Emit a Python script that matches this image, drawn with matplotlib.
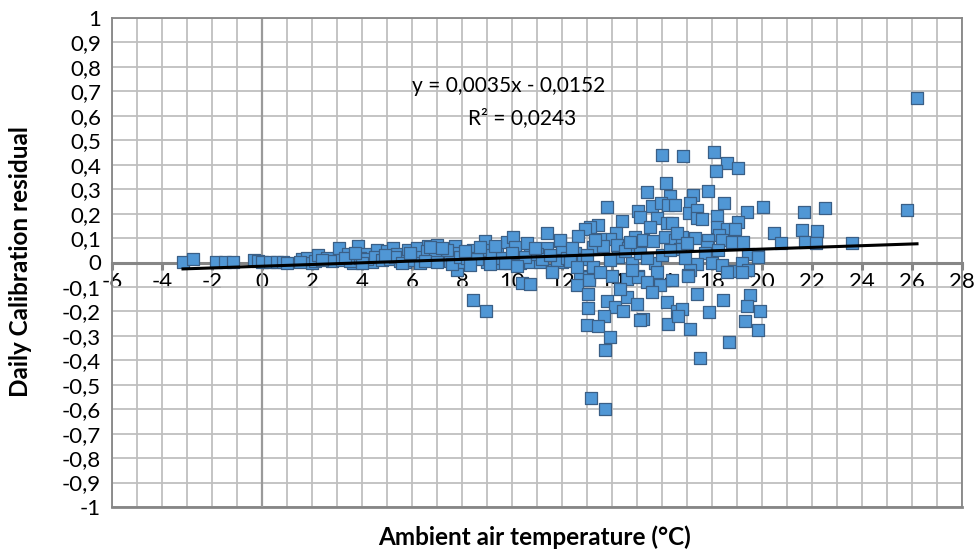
import numpy as np
import matplotlib
matplotlib.use("Agg")
import matplotlib.pyplot as plt
from matplotlib.ticker import MultipleLocator, FuncFormatter

plt.rcParams['font.family'] = ['Lato', 'DejaVu Sans']

# ---------------- data ----------------
temp_a = [-3.16, -2.76, -1.84, -1.48, -1.16, -0.32, -0.16, 0.0, 0.32, 0.6, 0.84, 1.0, 1.6, 1.8, 2.0,
          2.12, 2.24, 2.6, 2.8, 1.5, 2.4]
resid_a = [0.004, 0.016, 0.004, 0.004, 0.004, 0.012, 0.008, 0.004, 0.004, 0.004, 0.004, 0.0, 0.016, 0.02, 0.0,
           0.008, 0.029, 0.02, 0.008, 0.004, 0.012]

temp_b = [3.08, 3.44, 3.84, 4.12, 3.64, 4.4, 3.2, 3.5, 3.9, 4.2, 4.6, 3.3, 4.0, 4.5, 3.7,
          5.0, 5.24, 5.4, 5.84, 6.2, 6.12, 5.72, 6.64, 7.0, 7.12, 7.72, 7.8, 7.8, 8.04, 4.8,
          5.1, 5.5, 6.0, 6.4, 6.8, 7.3, 7.5, 6.6, 7.4, 6.9, 5.3, 5.6, 6.3, 7.6, 6.7,
          7.2, 4.9, 5.9, 6.5, 7.9, 7.0]
resid_b = [0.06, 0.033, 0.069, 0.033, -0.004, 0.004, 0.012, 0.008, 0.02, 0.016, 0.053, 0.02, 0.0, 0.024, 0.04,
           0.045, 0.06, 0.033, 0.053, 0.06, 0.02, 0.004, 0.069, 0.073, 0.037, 0.069, 0.04, -0.029, 0.004, 0.012,
           0.016, 0.008, 0.012, 0.024, 0.02, 0.016, 0.008, 0.045, 0.053, 0.033, 0.024, 0.0, -0.004, -0.008, 0.065,
           0.061, 0.029, 0.037, 0.008, 0.024, 0.004]

temp_c = [8.44, 8.92, 8.84, 9.0, 9.4, 9.52, 9.8, 10.04, 10.12, 9.92, 10.32, 10.72, 10.72, 11.12, 11.4,
          11.4, 11.6, 11.92, 12.0, 12.0, 10.4, 10.72, 8.44, 8.96, 8.2, 8.6, 9.2, 9.6, 10.0, 10.5,
          11.0, 11.2, 8.3, 9.1, 10.2, 11.8, 8.7, 9.3, 10.6, 11.5, 12.2, 9.7, 8.1, 10.9]
resid_c = [0.053, 0.086, 0.053, 0.004, 0.045, 0.0, 0.082, 0.106, 0.065, 0.0, 0.0, 0.045, 0.004, 0.004, 0.122,
           0.06, -0.029, 0.086, 0.053, 0.004, -0.082, -0.086, -0.155, -0.2, 0.02, 0.016, 0.029, 0.02, 0.037, 0.024,
           0.033, 0.016, -0.012, -0.008, -0.016, 0.012, 0.065, 0.069, 0.078, 0.029, 0.02, -0.004, 0.045, 0.06]

temp_d = [16.0, 16.16, 15.4, 16.32, 13.8, 15.6, 15.96, 16.24, 15.04, 15.12, 14.4, 15.8, 16.2, 15.52, 13.44,
          13.12, 12.92, 12.64, 14.16, 11.92, 13.92, 13.52, 14.92, 15.24, 15.64, 16.12, 16.52, 13.24, 13.64, 14.2,
          14.64, 12.52, 12.3, 12.84, 14.24, 14.8, 15.12, 15.72, 14.0, 15.04, 15.8, 12.72, 13.08, 12.6, 13.24,
          13.0, 13.9, 14.5, 15.4, 16.0, 12.4, 13.3, 14.7]
resid_d = [0.44, 0.327, 0.29, 0.27, 0.229, 0.233, 0.245, 0.237, 0.212, 0.188, 0.171, 0.18, 0.163, 0.147, 0.155,
           0.147, 0.135, 0.11, 0.122, 0.09, 0.098, 0.098, 0.106, 0.094, 0.086, 0.106, 0.094, 0.065, 0.069, 0.073,
           0.061, 0.04, 0.008, 0.016, 0.024, 0.0, 0.04, 0.0, -0.057, -0.057, -0.037, -0.057, -0.061, -0.02, -0.02,
           0.03, 0.01, 0.045, 0.02, 0.03, 0.06, 0.09, 0.085]

temp_e = [16.84, 18.08, 18.6, 19.04, 18.16, 17.84, 17.24, 16.52, 17.12, 18.48, 20.04, 19.4, 17.08, 17.4, 18.2,
          17.4, 17.6, 19.04, 18.2, 18.6, 18.92, 18.28, 16.8, 17.32, 17.84, 18.4, 18.8, 19.24, 16.72, 17.8,
          18.24, 17.72, 19.44, 19.84, 17.4, 17.12, 17.04, 18.84, 19.2, 19.44, 16.4, 16.6, 17.0, 16.3, 16.9,
          18.0, 18.4]
resid_e = [0.437, 0.453, 0.408, 0.388, 0.376, 0.294, 0.278, 0.237, 0.245, 0.245, 0.229, 0.208, 0.204, 0.216, 0.192,
           0.18, 0.176, 0.167, 0.147, 0.139, 0.139, 0.114, 0.106, 0.102, 0.094, 0.09, 0.082, 0.082, 0.057, 0.065,
           0.053, 0.04, 0.033, 0.029, -0.008, -0.029, -0.053, -0.033, 0.0, -0.029, 0.16, 0.12, 0.08, 0.05, 0.02,
           0.0, -0.012]

temp_f = [11.6, 12.6, 13.08, 13.04, 13.8, 14.12, 14.44, 14.6, 15.0, 15.24, 13.04, 13.68, 13.0, 13.44, 13.92,
          13.72, 13.16, 13.72, 14.6, 15.04, 15.4, 15.92, 16.2, 16.24, 16.6, 17.04, 17.4, 18.44, 19.52, 19.4,
          16.8, 16.64, 17.88, 19.92, 19.32, 17.12, 19.84, 18.68, 17.52, 18.6, 19.2, 14.3, 15.6, 13.5, 14.8,
          16.4, 15.1]
resid_f = [-0.037, -0.09, -0.073, -0.127, -0.159, -0.184, -0.2, -0.143, -0.171, -0.233, -0.188, -0.22, -0.257, -0.261, -0.306,
           -0.359, -0.555, -0.6, -0.069, -0.061, -0.078, -0.09, -0.163, -0.253, -0.2, -0.057, -0.127, -0.155, -0.131, -0.176,
           -0.192, -0.22, -0.204, -0.2, -0.241, -0.273, -0.278, -0.327, -0.392, -0.037, -0.037, -0.11, -0.12, -0.04, -0.03,
           -0.07, -0.235]

temp_g = [20.48, 20.76, 21.68, 22.52, 25.8, 21.6, 22.2, 21.72, 22.16, 23.6, 26.2, 19.84]
resid_g = [0.122, 0.078, 0.208, 0.224, 0.216, 0.131, 0.127, 0.082, 0.078, 0.078, 0.673, 0.024]

temperature = np.array(temp_a + temp_b + temp_c + temp_d + temp_e + temp_f + temp_g)
residual = np.array(resid_a + resid_b + resid_c + resid_d + resid_e + resid_f + resid_g)

# trendline as reported in the chart
slope = 0.0035
intercept = -0.0152
r_squared = 0.0243

x_ticks = list(range(-6, 29, 2))
y_ticks = [round(v, 1) for v in np.arange(-1.0, 1.01, 0.1)]

# ---------------- figure ----------------
fig = plt.figure(figsize=(9.75, 5.51), dpi=100)
ax = fig.add_axes([112 / 975, 1 - 507 / 551, 850 / 975, 489 / 551])

grid_c = '#BFBFBF'
axis_c = '#868686'

ax.set_xlim(-6, 28)
ax.set_ylim(-1, 1)
ax.xaxis.set_major_locator(MultipleLocator(2))
ax.xaxis.set_minor_locator(MultipleLocator(1))
ax.yaxis.set_major_locator(MultipleLocator(0.1))

ax.grid(True, which='both', axis='x', color=grid_c, lw=1.3, zorder=0)
ax.grid(True, which='major', axis='y', color=grid_c, lw=1.3, zorder=0)
ax.set_axisbelow(True)

# axes crossing at 0
ax.spines['bottom'].set_position(('data', 0))
ax.spines['bottom'].set_color(axis_c)
ax.spines['bottom'].set_linewidth(2.2)
ax.spines['bottom'].set_zorder(1)
for s in ['top', 'right', 'left']:
    ax.spines[s].set_color(axis_c)
    ax.spines[s].set_linewidth(1.3)
ax.axhline(-1, color=axis_c, lw=2.0, zorder=1, clip_on=False)
ax.axvline(0, color='#9A9A9A', lw=1.6, zorder=1)

def comma(v, pos=None):
    if abs(v) < 1e-9:
        return '0'
    s = ('%.1f' % v).rstrip('0').rstrip('.')
    return s.replace('.', ',')

ax.set_xticks(x_ticks)
ax.set_yticks(y_ticks)
ax.xaxis.set_major_formatter(FuncFormatter(lambda v, p: '%d' % round(v)))
ax.yaxis.set_major_formatter(FuncFormatter(comma))
ax.tick_params(axis='x', which='major', direction='out', length=5, width=2.2, color=axis_c,
               labelsize=16, pad=2)
ax.tick_params(axis='x', which='minor', length=0)
ax.tick_params(axis='y', length=0, labelsize=16, pad=8)

ax.scatter(temperature, residual, marker='s', s=66, facecolor='#5097D5', edgecolor='#3A5F86',
           linewidths=0.9, zorder=3)

xt = np.array([temperature.min(), temperature.max()])
ax.plot(xt, slope * xt + intercept, color='black', lw=2.2, zorder=4)

eq = 'y = %sx - %s' % (('%.4f' % slope).replace('.', ','), ('%.4f' % abs(intercept)).replace('.', ','))
ax.text(9.88, 0.722, eq, ha='center', va='center', fontsize=15, zorder=5)
ax.text(10.4, 0.592, 'R² = %s' % ('%.4f' % r_squared).replace('.', ','), ha='center', va='center',
        fontsize=15, zorder=5)

fig.text(535 / 975, 1 - 537 / 551, 'Ambient air temperature (°C)', ha='center', va='center',
         fontsize=17.5, fontweight='bold')
fig.text(21 / 975, 1 - 262 / 551, 'Daily Calibration residual', ha='center', va='center', rotation=90,
         fontsize=17.5, fontweight='bold')

fig.savefig('out.png', dpi=100)
